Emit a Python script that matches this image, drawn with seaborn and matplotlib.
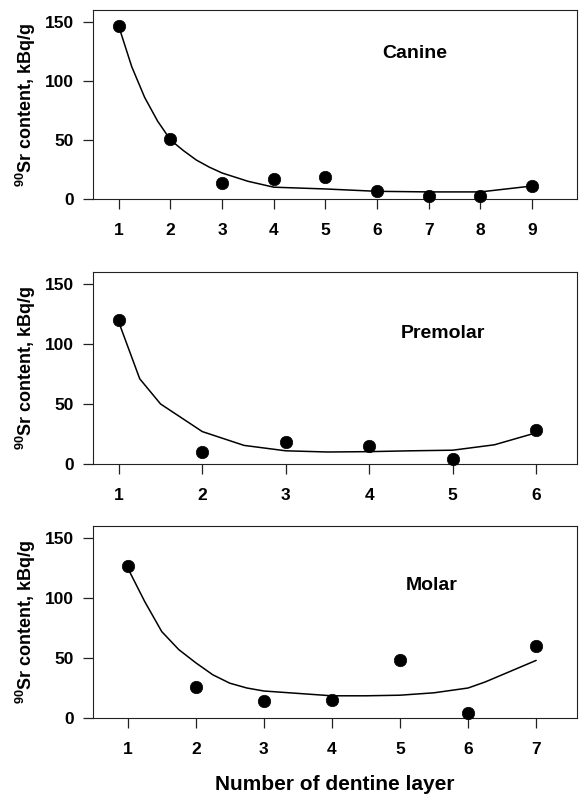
import matplotlib
matplotlib.use("Agg")
import matplotlib.pyplot as plt
import seaborn as sns
import pandas as pd

# ---- data ----
canine_layers = [1, 2, 3, 4, 5, 6, 7, 8, 9]
canine_sr = [146.5, 51, 13.5, 16.8, 18.5, 6.7, 2.5, 2.5, 11]
canine_fit_x = [1, 1.25, 1.5, 1.75, 2, 2.25, 2.5, 2.75, 3, 3.5, 4, 5, 6, 7, 8, 9]
canine_fit_y = [146, 112, 86, 66, 50, 41, 33, 27, 22, 15, 10, 8.5, 6.5, 6, 6, 11]

premolar_layers = [1, 2, 3, 4, 5, 6]
premolar_sr = [120, 10.3, 18, 15.3, 4, 28.5]
premolar_fit_x = [1, 1.25, 1.5, 2, 2.5, 3, 3.5, 4, 4.5, 5, 5.5, 6]
premolar_fit_y = [118, 71, 50, 27, 15.5, 11, 10, 10.3, 11, 11.5, 16, 26]

molar_layers = [1, 2, 3, 4, 5, 6, 7]
molar_sr = [126.7, 26, 14.4, 15, 48.3, 4, 60]
molar_fit_x = [1, 1.25, 1.5, 1.75, 2, 2.25, 2.5, 2.75, 3, 3.5, 4, 4.5, 5, 5.5, 6, 6.25, 6.5, 6.75, 7]
molar_fit_y = [125, 97, 72, 57, 46, 36, 29, 25, 22.5, 20.5, 18.5, 18.5, 19, 21, 25, 30, 36, 42, 48]

panel_names = ["Canine", "Premolar", "Molar"]
y_ticks = [0, 50, 100, 150]
y_label = "$^{90}$Sr content, kBq/g"
x_label = "Number of dentine layer"

# ---- style ----
sns.set_style("ticks")
plt.rcParams["font.family"] = ["Liberation Sans", "DejaVu Sans"]
plt.rcParams["mathtext.fontset"] = "custom"
plt.rcParams["mathtext.rm"] = "Liberation Sans:bold"
plt.rcParams["mathtext.it"] = "Liberation Sans:bold"
plt.rcParams["mathtext.bf"] = "Liberation Sans:bold"
plt.rcParams["text.color"] = "black"
plt.rcParams["xtick.color"] = "black"
plt.rcParams["ytick.color"] = "black"
plt.rcParams["axes.labelcolor"] = "black"

fig = plt.figure(figsize=(5.8, 7.97), dpi=100)

W, H = 580, 797
left_px, right_px = 93, 577
panels = [
    dict(top=10, bottom=199, xlim=(0.5, 9.87), layers=canine_layers, sr=canine_sr,
         fx=canine_fit_x, fy=canine_fit_y, name=panel_names[0], tpos=(0.664, 0.77)),
    dict(top=272, bottom=464, xlim=(0.69, 6.49), layers=premolar_layers, sr=premolar_sr,
         fx=premolar_fit_x, fy=premolar_fit_y, name=panel_names[1], tpos=(0.724, 0.68)),
    dict(top=526, bottom=718, xlim=(0.49, 7.6), layers=molar_layers, sr=molar_sr,
         fx=molar_fit_x, fy=molar_fit_y, name=panel_names[2], tpos=(0.70, 0.69)),
]

for p in panels:
    ax = fig.add_axes([left_px / W, 1 - p["bottom"] / H,
                       (right_px - left_px) / W, (p["bottom"] - p["top"]) / H])
    fit_df = pd.DataFrame({"x": p["fx"], "y": p["fy"]})
    pts_df = pd.DataFrame({"x": p["layers"], "y": p["sr"]})
    sns.lineplot(data=fit_df, x="x", y="y", ax=ax, color="black", linewidth=1.1,
                 estimator=None, sort=False, zorder=2)
    sns.scatterplot(data=pts_df, x="x", y="y", ax=ax, color="black", s=80,
                    edgecolor="black", linewidth=0.5, zorder=3, clip_on=False)
    ax.set_xlim(*p["xlim"])
    ax.set_ylim(0, 160)
    ax.set_xticks(p["layers"])
    ax.set_yticks(y_ticks)
    ax.set_xlabel("")
    ax.set_ylabel("")
    for s in ax.spines.values():
        s.set_visible(True)
        s.set_linewidth(0.8)
        s.set_color("#222222")
    ax.tick_params(axis="x", direction="out", length=7, width=0.9, pad=10,
                   labelsize=12.5, color="#222222", labelcolor="black")
    ax.tick_params(axis="y", direction="out", length=7, width=0.9, pad=6.5,
                   labelsize=12.5, color="#222222", labelcolor="black")
    for lab in ax.get_xticklabels() + ax.get_yticklabels():
        lab.set_fontweight("bold")
    ax.text(p["tpos"][0], p["tpos"][1], p["name"], transform=ax.transAxes,
            ha="center", va="center", fontsize=14, fontweight="bold", color="black")
    fig.text(26 / W, 1 - (p["top"] + p["bottom"]) / 2 / H, y_label, rotation=90,
             ha="center", va="center", fontsize=13, fontweight="bold", color="black")

fig.text((left_px + right_px) / 2 / W, 1 - 785 / H, x_label, ha="center", va="center",
         fontsize=15, fontweight="bold", color="black")

fig.savefig("out.png", dpi=100)
